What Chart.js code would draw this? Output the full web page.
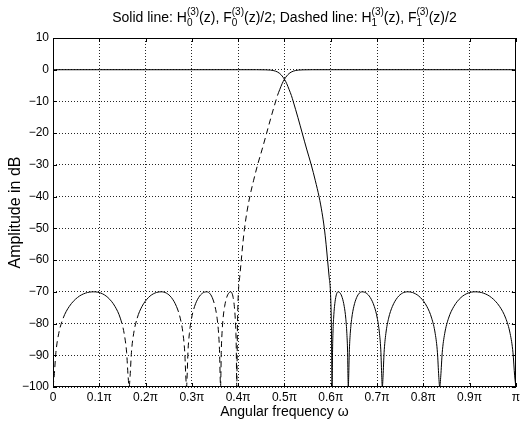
<!DOCTYPE html>
<html>
<head>
<meta charset="utf-8">
<script src="https://cdn.jsdelivr.net/npm/chart.js@4.4.1/dist/chart.umd.min.js"></script>
<style>
  html, body { margin: 0; padding: 0; background: #fff; overflow: hidden; }
  #wrap { position: relative; width: 523px; height: 423px; }
</style>
</head>
<body>
<div id="wrap"><canvas id="c" width="523" height="423"></canvas></div>
<script>
// Frequency axis in units of pi, magnitude in dB.
const xTickValues = [0, 0.1, 0.2, 0.3, 0.4, 0.5, 0.6, 0.7, 0.8, 0.9, 1];
const xTickLabels = ['0', '0.1π', '0.2π', '0.3π', '0.4π', '0.5π', '0.6π', '0.7π', '0.8π', '0.9π', 'π'];
const yTickValues = [10, 0, -10, -20, -30, -40, -50, -60, -70, -80, -90, -100];

// Lowpass analysis filter H0 (solid line)
const h0Omega = [
  0, 0.1, 0.2, 0.3, 0.4, 0.44, 0.46, 0.47, 0.481, 0.49, 0.5, 0.505, 0.51, 0.515, 0.519,
  0.529, 0.5385, 0.548, 0.558, 0.5668, 0.5748, 0.5812, 0.5862, 0.59, 0.5932, 0.5964, 0.5994, 0.6014,
  0.603, 0.6034, 0.6039, 0.6048, 0.6063, 0.6082, 0.6108, 0.6134, 0.616, 0.6204, 0.6248, 0.6292, 0.6325, 0.6349, 0.6365, 0.6373,
  0.638, 0.6389, 0.6401, 0.6422, 0.6455, 0.650, 0.656, 0.662, 0.668, 0.6767, 0.6854, 0.6941, 0.7006, 0.7054, 0.7085, 0.7102,
  0.7115, 0.7131, 0.7153, 0.7191, 0.7251, 0.7333, 0.7442, 0.7551, 0.766, 0.7799, 0.7938, 0.8077, 0.8181, 0.8258, 0.8306, 0.8334,
  0.8355, 0.8378, 0.8409, 0.8462, 0.8546, 0.8661, 0.8814, 0.8967, 0.912, 0.9296, 0.9472, 0.9648, 0.978, 0.9877, 0.9938, 0.9974,
  1.0
];
const h0Db = [
  0, 0, 0, 0, 0, 0, -0.04, -0.12, -0.46, -1.2, -3, -4.4, -6.2, -8.1, -10,
  -15, -20, -25, -30, -35, -40, -45, -50, -55, -60, -65, -70, -80,
  -100, -96.5, -89.2, -83.2, -78.3, -74.6, -71.8, -70.4, -70, -70.4, -71.8, -74.6, -78.3, -83.2, -89.2, -96.5,
  -100, -96.5, -89.2, -83.2, -78.3, -74.6, -71.8, -70.4, -70, -70.4, -71.8, -74.6, -78.3, -83.2, -89.2, -96.5,
  -100, -96.5, -89.2, -83.2, -78.3, -74.6, -71.8, -70.4, -70, -70.4, -71.8, -74.6, -78.3, -83.2, -89.2, -96.5,
  -100, -96.5, -89.2, -83.2, -78.3, -74.6, -71.8, -70.4, -70, -70.4, -71.8, -74.6, -78.3, -83.2, -89.2, -96.5,
  -100
];

// Highpass analysis filter H1 (dashed line)
const h1Omega = [
  0, 0.0026, 0.0062, 0.0123, 0.022, 0.0352, 0.0528, 0.0704, 0.088, 0.1033, 0.1186, 0.1339, 0.1454, 0.1538, 0.1591, 0.1622,
  0.1645, 0.1666, 0.1694, 0.1742, 0.1819, 0.1923, 0.2062, 0.2201, 0.234, 0.2449, 0.2558, 0.2667, 0.2749, 0.2809, 0.2847, 0.2869,
  0.2885, 0.2898, 0.2915, 0.2946, 0.2994, 0.3059, 0.3146, 0.3233, 0.332, 0.338, 0.344, 0.35, 0.3545, 0.3578, 0.3599, 0.3611,
  0.362, 0.3627, 0.3635, 0.3651, 0.3675, 0.3708, 0.3752, 0.3796, 0.384, 0.3866, 0.3892, 0.3918, 0.3937, 0.3952, 0.3961, 0.3966,
  0.397, 0.3986, 0.4006, 0.4036, 0.4068, 0.41, 0.4138, 0.4188, 0.4252, 0.4332, 0.442, 0.452, 0.4615, 0.471, 0.481,
  0.485, 0.49, 0.495, 0.5, 0.51, 0.519, 0.53, 0.54, 0.56, 0.6, 0.7, 0.8, 0.9, 1.0
];
const h1Db = [
  -100, -96.5, -89.2, -83.2, -78.3, -74.6, -71.8, -70.4, -70, -70.4, -71.8, -74.6, -78.3, -83.2, -89.2, -96.5,
  -100, -96.5, -89.2, -83.2, -78.3, -74.6, -71.8, -70.4, -70, -70.4, -71.8, -74.6, -78.3, -83.2, -89.2, -96.5,
  -100, -96.5, -89.2, -83.2, -78.3, -74.6, -71.8, -70.4, -70, -70.4, -71.8, -74.6, -78.3, -83.2, -89.2, -96.5,
  -100, -96.5, -89.2, -83.2, -78.3, -74.6, -71.8, -70.4, -70, -70.4, -71.8, -74.6, -78.3, -83.2, -89.2, -96.5,
  -100, -80, -70, -65, -60, -55, -50, -45, -40, -35, -30, -25, -20, -15, -10,
  -8.1, -6.2, -4.4, -3, -1.2, -0.46, -0.12, -0.04, 0, 0, 0, 0, 0, 0
];

const FONT = '"Liberation Sans", Arial, Helvetica, sans-serif';
const toPoints = (xs, ys) => xs.map((x, i) => ({ x, y: ys[i] }));

// Title with stacked super/subscripts: H_0^{(3)} etc.
const titleParts = [
  ['t', 'Solid line: H'], ['s', '(3)', '0'], ['t', '(z), F'], ['s', '(3)', '0'],
  ['t', '(z)/2; Dashed line: H'], ['s', '(3)', '1'], ['t', '(z), F'], ['s', '(3)', '1'], ['t', '(z)/2']
];
const titlePlugin = {
  id: 'scriptTitle',
  afterDraw(chart) {
    const ctx = chart.ctx;
    const area = chart.chartArea;
    const mainFont = '14px ' + FONT;
    const smallFont = '10px ' + FONT;
    ctx.save();
    ctx.fillStyle = '#000';
    ctx.textBaseline = 'alphabetic';
    ctx.textAlign = 'left';
    const widths = titleParts.map(p => {
      if (p[0] === 't') { ctx.font = mainFont; return ctx.measureText(p[1]).width; }
      ctx.font = smallFont;
      return Math.max(ctx.measureText(p[1]).width, ctx.measureText(p[2]).width);
    });
    const total = widths.reduce((a, b) => a + b, 0);
    let x = (area.left + area.right) / 2 - total / 2;
    const base = 22;
    titleParts.forEach((p, i) => {
      if (p[0] === 't') {
        ctx.font = mainFont;
        ctx.fillText(p[1], x, base);
      } else {
        ctx.font = smallFont;
        ctx.fillText(p[1], x, base - 7);
        ctx.fillText(p[2], x, base + 4);
      }
      x += widths[i];
    });
    ctx.restore();
  }
};

// Axes box with inward tick marks on all four sides
const framePlugin = {
  id: 'frame',
  afterDatasetsDraw(chart) {
    const { ctx, chartArea: a, scales } = chart;
    const tl = 4;
    ctx.save();
    ctx.strokeStyle = '#000';
    ctx.lineWidth = 1;
    ctx.setLineDash([]);
    ctx.beginPath();
    xTickValues.forEach(v => {
      const px = Math.round(scales.x.getPixelForValue(v)) + 0.5;
      ctx.moveTo(px, a.bottom); ctx.lineTo(px, a.bottom - tl);
      ctx.moveTo(px, a.top); ctx.lineTo(px, a.top + tl);
    });
    yTickValues.forEach(v => {
      const py = Math.round(scales.y.getPixelForValue(v)) + 0.5;
      ctx.moveTo(a.left, py); ctx.lineTo(a.left + tl, py);
      ctx.moveTo(a.right, py); ctx.lineTo(a.right - tl, py);
    });
    ctx.stroke();
    ctx.strokeRect(Math.round(a.left) + 0.5, Math.round(a.top) + 0.5,
                   Math.round(a.right - a.left) - 1, Math.round(a.bottom - a.top) - 1);
    ctx.restore();
  }
};

// Dashes show on the steep flanks of the dashed curve; flat stretches read as solid
const steepDash = c => {
  const dx = Math.abs(c.p1.x - c.p0.x);
  const dy = Math.abs(c.p1.y - c.p0.y);
  return dy > 3 * dx ? [6, 4] : undefined;
};

new Chart(document.getElementById('c'), {
  type: 'line',
  data: {
    datasets: [
      {
        data: toPoints(h0Omega, h0Db),
        borderColor: '#000', borderWidth: 1, pointRadius: 0,
        cubicInterpolationMode: 'monotone', fill: false
      },
      {
        data: toPoints(h1Omega, h1Db),
        borderColor: '#000', borderWidth: 1, pointRadius: 0, borderDash: [],
        segment: { borderDash: steepDash },
        cubicInterpolationMode: 'monotone', fill: false
      }
    ]
  },
  options: {
    responsive: false,
    animation: false,
    devicePixelRatio: 1,
    layout: { padding: { top: 38, right: 2, left: 0, bottom: 0 } },
    plugins: { legend: { display: false }, tooltip: { enabled: false }, title: { display: false } },
    scales: {
      x: {
        type: 'linear', min: 0, max: 1,
        afterBuildTicks: s => { s.ticks = xTickValues.map(v => ({ value: v })); },
        afterFit: s => { s.height = 36; },
        grid: { color: 'rgba(0,0,0,0.85)', lineWidth: 1, drawTicks: false },
        border: { display: false, dash: [1, 2] },
        ticks: {
          padding: 3, color: '#000', maxRotation: 0, autoSkip: false,
          font: { family: FONT, size: 12 },
          callback: (v, i) => xTickLabels[i]
        },
        title: {
          display: true, text: 'Angular frequency ω', color: '#000',
          font: { family: FONT, size: 14 }, padding: { top: 0, bottom: 2 }
        }
      },
      y: {
        type: 'linear', min: -100, max: 10,
        afterBuildTicks: s => { s.ticks = yTickValues.map(v => ({ value: v })); },
        afterFit: s => { s.width = 53; },
        grid: { color: 'rgba(0,0,0,0.85)', lineWidth: 1, drawTicks: false },
        border: { display: false, dash: [1, 2] },
        ticks: {
          padding: 4, color: '#000', autoSkip: false,
          font: { family: FONT, size: 12 },
          callback: v => (v < 0 ? '\u2212' + Math.abs(v) : String(v))
        },
        title: {
          display: true, text: 'Amplitude in dB', color: '#000',
          font: { family: FONT, size: 16 }, padding: { top: 6, bottom: 0 }
        }
      }
    }
  },
  plugins: [framePlugin, titlePlugin]
});
</script>
</body>
</html>
